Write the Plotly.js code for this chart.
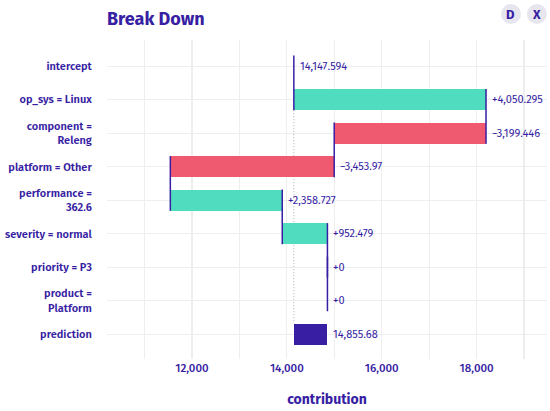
<!DOCTYPE html>
<html><head><meta charset="utf-8">
<script src="https://cdn.plot.ly/plotly-3.0.1.min.js"></script>
<style>html,body{margin:0;padding:0;background:#fff}#chart{width:550px;height:411px}</style>
</head><body><div id="chart"></div>
<script>
// ---- data ----
const categories = ['intercept', 'op_sys = Linux', 'component =<br>Releng', 'platform = Other',
  'performance =<br>362.6', 'severity = normal', 'priority = P3', 'product =<br>Platform', 'prediction'];
const intercept = 14147.594;
const featureContributions = [4050.295, -3199.446, -3453.97, 2358.727, 952.479, 0, 0];
const prediction = 14855.68;
const xTickValues = [12000, 14000, 16000, 18000];
const xTickLabels = ['12,000', '14,000', '16,000', '18,000'];

// ---- style ----
const PURPLE = '#371ea3', GREEN = '#50dcbe', RED = '#f05a71';
const FONT = 'Fira Sans, Roboto, Noto Sans, sans-serif';
const BARW = 0.63;
const fmt = v => Math.abs(v).toLocaleString('en-US', {maximumFractionDigits: 3});

// running sums
const starts = [], ends = [];
let run = intercept;
featureContributions.forEach(c => { starts.push(run); run += c; ends.push(run); });

const barY = [], barX = [], barBase = [], barColor = [];
featureContributions.forEach((c, i) => {
  barY.push(categories[i + 1]); barX.push(c); barBase.push(starts[i]);
  barColor.push(c >= 0 ? GREEN : RED);
});
barY.push(categories[8]); barX.push(prediction - intercept); barBase.push(intercept); barColor.push(PURPLE);

const traces = [{
  type: 'bar', orientation: 'h', y: barY, x: barX, base: barBase, width: BARW,
  marker: {color: barColor, line: {width: 0}}, hoverinfo: 'skip', showlegend: false
}];

// connectors (vertical lines at running value, from row i top to row i+1 bottom)
const shapes = [];
const cum = [intercept].concat(ends);
for (let i = 0; i < 7; i++) {
  shapes.push({type: 'line', xref: 'x', yref: 'y', x0: cum[i], x1: cum[i],
    y0: i - BARW / 2, y1: i + 1 + BARW / 2, line: {color: PURPLE, width: 1.5}});
}
// dotted intercept guide
shapes.push({type: 'line', xref: 'x', yref: 'y', layer: 'below', x0: intercept, x1: intercept,
  y0: 1 + BARW / 2, y1: 8 - BARW / 2, line: {color: '#aaaabb', width: 1, dash: '1px,2px'}});
// D / X buttons
[[0.918, 'D'], [0.977, 'X']].forEach(([px]) => {
  shapes.push({type: 'circle', xref: 'paper', yref: 'paper', xsizemode: 'pixel', ysizemode: 'pixel',
    xanchor: px, yanchor: 1.0815, x0: -10, x1: 10, y0: -10, y1: 10,
    fillcolor: '#e7e6ef', line: {width: 0}});
});

// value labels
const annotations = [];
annotations.push({x: intercept, y: 0, xref: 'x', yref: 'y', text: fmt(intercept), showarrow: false,
  xanchor: 'left', xshift: 4, font: {family: FONT, size: 11, color: PURPLE}});
featureContributions.forEach((c, i) => {
  annotations.push({x: Math.max(starts[i], ends[i]), y: i + 1, xref: 'x', yref: 'y',
    text: (c < 0 ? '\u2212' : '+') + fmt(c), showarrow: false, xanchor: 'left', xshift: 4,
    font: {family: FONT, size: 11, color: PURPLE}});
});
annotations.push({x: prediction, y: 8, xref: 'x', yref: 'y', text: fmt(prediction), showarrow: false,
  xanchor: 'left', xshift: 4, font: {family: FONT, size: 11, color: PURPLE}});
[[0.918, 'D'], [0.977, 'X']].forEach(([px, t]) => {
  annotations.push({x: px, y: 1.0815, xref: 'paper', yref: 'paper', text: '<b>' + t + '</b>',
    showarrow: false, xanchor: 'center', yanchor: 'middle', font: {family: FONT, size: 13, color: PURPLE}});
});

const layout = {
  width: 550, height: 411,
  margin: {l: 107, r: 3, t: 40, b: 52},
  paper_bgcolor: '#fff', plot_bgcolor: '#fff',
  title: {text: '<b>Break Down</b>', x: 0, xref: 'paper', xanchor: 'left', y: 0.954, yref: 'container',
    yanchor: 'middle', font: {family: FONT, size: 18, color: PURPLE}},
  xaxis: {range: [10210, 19483], tickmode: 'array', tickvals: xTickValues, ticktext: xTickLabels,
    showgrid: true, gridcolor: '#eeeeee', gridwidth: 1.2, zeroline: false, showline: false,
    ticks: '', tickfont: {family: FONT, size: 11.5, color: PURPLE, weight: 500},
    minor: {tick0: 0, dtick: 1000, showgrid: true, gridcolor: '#eeeeee', gridwidth: 1.2},
    title: {text: '<b>contribution</b>', standoff: 20, font: {family: FONT, size: 14, color: PURPLE}},
    fixedrange: true},
  yaxis: {type: 'category', categoryorder: 'array', categoryarray: categories, range: [8.74, -0.78],
    showgrid: true, gridcolor: '#eeeeee', gridwidth: 1.2, zeroline: false, showline: false,
    ticks: 'outside', ticklen: 12, tickcolor: 'rgba(0,0,0,0)',
    tickfont: {family: FONT, size: 11, color: PURPLE, weight: 600}, fixedrange: true},
  bargap: 0, shapes: shapes, annotations: annotations, hovermode: false, showlegend: false
};

Plotly.newPlot('chart', traces, layout, {displayModeBar: false, staticPlot: true});
</script>
</body></html>
